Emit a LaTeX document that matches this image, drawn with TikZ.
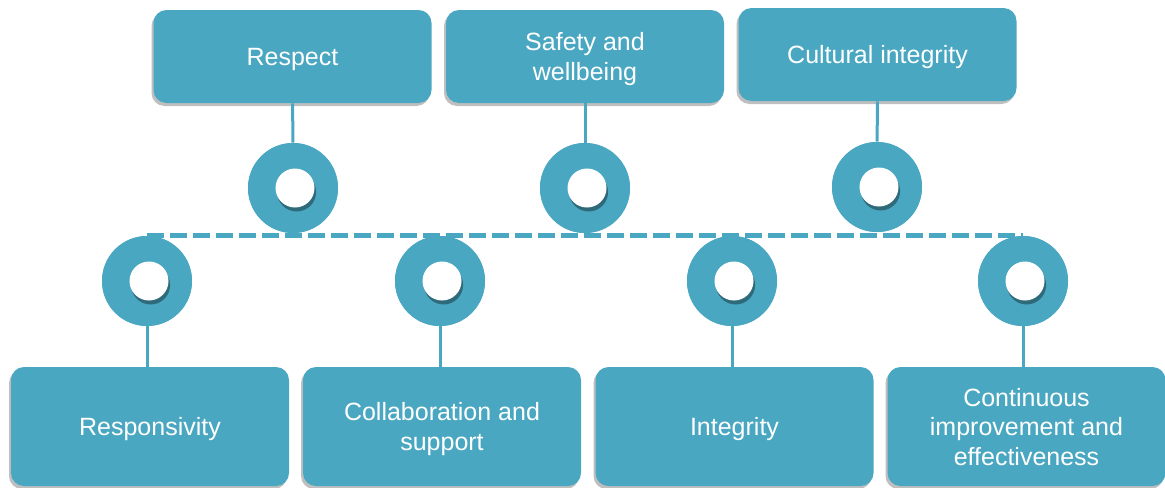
\documentclass[tikz,border=0pt]{standalone}
\usepackage{fontspec}
\setmainfont{Liberation Sans}
\usetikzlibrary{positioning, shadows}
\definecolor{valblue}{RGB}{74,167,193}

\begin{document}
\begin{tikzpicture}[x=0.5pt, y=-0.5pt,
    val/.style={rectangle, rounded corners=6.5pt, fill=valblue, text=white, align=center,
      font=\fontsize{12.5}{14.75}\selectfont, minimum width=139pt, inner sep=0pt, text depth=0pt,
      drop shadow={shadow xshift=-1pt, shadow yshift=-1.5pt, opacity=.25, fill=black}},
    ring/.style={circle, fill=valblue, minimum size=45pt, inner sep=0pt},
    hole/.style={circle, fill=white, minimum size=19.5pt, inner sep=0pt,
      drop shadow={shadow xshift=.8pt, shadow yshift=-2pt, opacity=.45, fill=black!80!valblue}},
    link/.style={draw=valblue, line width=1.5pt}]
  \useasboundingbox (0,0) rectangle (1165,487);
  % principles on top
  \node[val, minimum height=46.5pt] (respect) at (292.5,56.5) {Respect};
  \node[val, minimum height=46.5pt] (safety) at (585,56.5) {Safety and\\wellbeing};
  \node[val, minimum height=46.5pt] (culture) at (877.5,54.5) {Cultural integrity};
  % principles below
  \node[val, minimum height=59.5pt] (respons) at (150,426.5) {Responsivity};
  \node[val, minimum height=59.5pt] (collab) at (442,426.5) {Collaboration and\\support};
  \node[val, minimum height=59.5pt] (integ) at (734.5,426.5) {Integrity};
  \node[val, minimum height=59.5pt] (contin) at (1026.5,426.5) {Continuous\\improvement and\\effectiveness};
  % rings
  \node[ring] (r1) at (293,188) {}; \node[ring] (r2) at (585,188) {}; \node[ring] (r3) at (877,187) {};
  \node[ring] (s1) at (147,281) {}; \node[ring] (s2) at (440,281) {};
  \node[ring] (s3) at (732,281) {}; \node[ring] (s4) at (1023,281) {};
  \draw[valblue, line width=2.5pt, dash pattern=on 8.5pt off 3pt] (s1.north) -- (s4.north);
  \foreach \r in {r1,r2,r3,s1,s2,s3,s4} {
    \node[ring] at (\r) {};
    \node[hole] at ([xshift=1pt]\r.center) {};
  }
  % links
  \draw[link] (respect) -- (r1); \draw[link] (safety) -- (r2); \draw[link] (culture) -- (r3);
  \draw[link] (s1) -- (respons.north -| s1); \draw[link] (s2) -- (collab.north -| s2);
  \draw[link] (s3) -- (integ.north -| s3); \draw[link] (s4) -- (contin.north -| s4);
\end{tikzpicture}
\end{document}
